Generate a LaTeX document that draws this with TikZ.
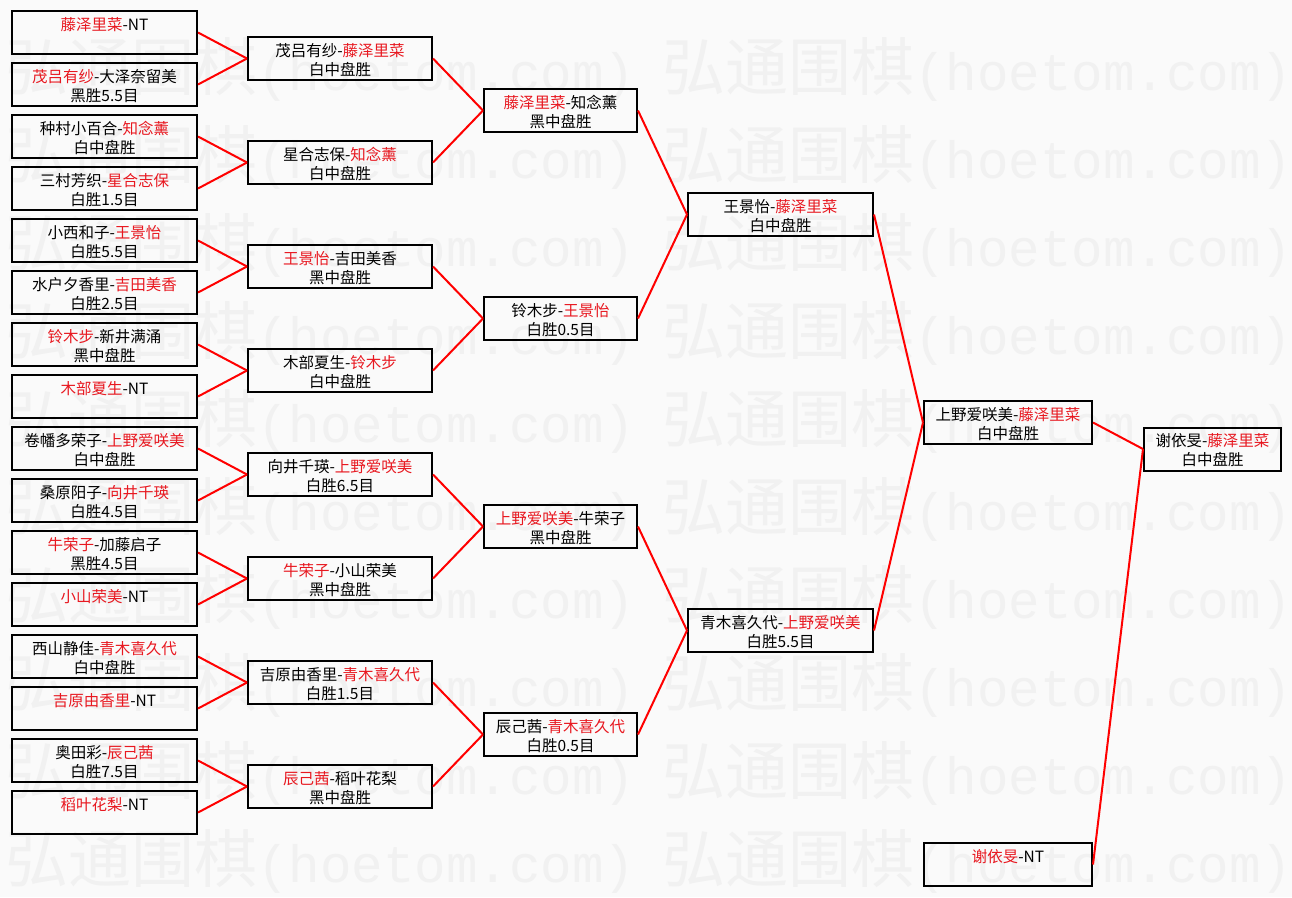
\documentclass[tikz,border=0pt]{standalone}
\usepackage{fontspec}
\newfontfamily\cjk{Noto Sans CJK SC}
\newfontfamily\wmmono{Liberation Mono}
\definecolor{nred}{RGB}{232,24,32}
\definecolor{bgc}{RGB}{250,250,250}
\definecolor{wmc}{RGB}{241,241,241}
\newcommand{\rd}[1]{\textcolor{nred}{#1}}
\tikzset{
  box/.style={draw=black, line width=2pt, rectangle, minimum height=43pt, inner sep=0pt},
  txt/.style={anchor=base, inner sep=0pt, font=\cjk\fontsize{15.5}{18}\selectfont, text=black},
  conn/.style={draw=red, line width=2pt},
  wm/.style={anchor=base west, inner sep=0pt, text=wmc}
}
\newcommand{\gamebox}[6]{%
  \node[box, minimum width=#4pt] (#1) at (#2,#3) {};
  \node[txt] (#1a) at ([yshift=-20.2pt]#1.north) {#5};
  \node[txt] (#1b) at ([yshift=-39.2pt]#1.north) {#6};
}
\begin{document}
\begin{tikzpicture}[x=1pt,y=-1pt]
\fill[bgc] (0,0) rectangle (1292,897);
\useasboundingbox (0,0) rectangle (1292,897);
% watermark
\foreach \k in {0,...,9}{
  \node[wm] (wl\k) at (5,{90+88*\k}) {{\cjk\fontsize{63}{63}\selectfont 弘通围棋}{\wmmono\fontsize{52.5}{60}\selectfont (hoetom.com)}};
  \node[wm] (wr\k) at (662,{90+88*\k}) {{\cjk\fontsize{63}{63}\selectfont 弘通围棋}{\wmmono\fontsize{52.5}{60}\selectfont (hoetom.com)}};
}
% column 1
\gamebox{a0}{104.5}{32.5}{185}{\rd{藤泽里菜}-NT}{\strut}
\gamebox{a1}{104.5}{84.5}{185}{\rd{茂吕有纱}-大泽奈留美}{黑胜5.5目}
\gamebox{a2}{104.5}{136.5}{185}{种村小百合-\rd{知念薰}}{白中盘胜}
\gamebox{a3}{104.5}{188.5}{185}{三村芳织-\rd{星合志保}}{白胜1.5目}
\gamebox{a4}{104.5}{240.5}{185}{小西和子-\rd{王景怡}}{白胜5.5目}
\gamebox{a5}{104.5}{292.5}{185}{水户夕香里-\rd{吉田美香}}{白胜2.5目}
\gamebox{a6}{104.5}{344.5}{185}{\rd{铃木步}-新井满涌}{黑中盘胜}
\gamebox{a7}{104.5}{396.5}{185}{\rd{木部夏生}-NT}{\strut}
\gamebox{a8}{104.5}{448.5}{185}{卷幡多荣子-\rd{上野爱咲美}}{白中盘胜}
\gamebox{a9}{104.5}{500.5}{185}{桑原阳子-\rd{向井千瑛}}{白胜4.5目}
\gamebox{a10}{104.5}{552.5}{185}{\rd{牛荣子}-加藤启子}{黑胜4.5目}
\gamebox{a11}{104.5}{604.5}{185}{\rd{小山荣美}-NT}{\strut}
\gamebox{a12}{104.5}{656.5}{185}{西山静佳-\rd{青木喜久代}}{白中盘胜}
\gamebox{a13}{104.5}{708.5}{185}{\rd{吉原由香里}-NT}{\strut}
\gamebox{a14}{104.5}{760.5}{185}{奥田彩-\rd{辰己茜}}{白胜7.5目}
\gamebox{a15}{104.5}{812.5}{185}{\rd{稻叶花梨}-NT}{\strut}
% column 2
\gamebox{b0}{340}{58.5}{184}{茂吕有纱-\rd{藤泽里菜}}{白中盘胜}
\gamebox{b1}{340}{162.5}{184}{星合志保-\rd{知念薰}}{白中盘胜}
\gamebox{b2}{340}{266.5}{184}{\rd{王景怡}-吉田美香}{黑中盘胜}
\gamebox{b3}{340}{370.5}{184}{木部夏生-\rd{铃木步}}{白中盘胜}
\gamebox{b4}{340}{474.5}{184}{向井千瑛-\rd{上野爱咲美}}{白胜6.5目}
\gamebox{b5}{340}{578.5}{184}{\rd{牛荣子}-小山荣美}{黑中盘胜}
\gamebox{b6}{340}{682.5}{184}{吉原由香里-\rd{青木喜久代}}{白胜1.5目}
\gamebox{b7}{340}{786.5}{184}{\rd{辰己茜}-稻叶花梨}{黑中盘胜}
% column 3
\gamebox{c0}{560.5}{110.5}{153}{\rd{藤泽里菜}-知念薰}{黑中盘胜}
\gamebox{c1}{560.5}{318.5}{153}{铃木步-\rd{王景怡}}{白胜0.5目}
\gamebox{c2}{560.5}{526.5}{153}{\rd{上野爱咲美}-牛荣子}{黑中盘胜}
\gamebox{c3}{560.5}{734.5}{153}{辰己茜-\rd{青木喜久代}}{白胜0.5目}
% column 4
\gamebox{d0}{780.5}{214.5}{185}{王景怡-\rd{藤泽里菜}}{白中盘胜}
\gamebox{d1}{780.5}{630.5}{185}{青木喜久代-\rd{上野爱咲美}}{白胜5.5目}
% column 5
\gamebox{e0}{1008}{422.5}{168}{上野爱咲美-\rd{藤泽里菜}}{白中盘胜}
\gamebox{e1}{1008}{864.5}{168}{\rd{谢依旻}-NT}{\strut}
% final
\gamebox{f0}{1212.5}{449}{137}{谢依旻-\rd{藤泽里菜}}{白中盘胜}
% connectors
\foreach \i/\p in {0/0,1/0,2/1,3/1,4/2,5/2,6/3,7/3,8/4,9/4,10/5,11/5,12/6,13/6,14/7,15/7}
  \draw[conn] (a\i.east) -- (b\p.west);
\foreach \i/\p in {0/0,1/0,2/1,3/1,4/2,5/2,6/3,7/3}
  \draw[conn] (b\i.east) -- (c\p.west);
\foreach \i/\p in {0/0,1/0,2/1,3/1}
  \draw[conn] (c\i.east) -- (d\p.west);
\draw[conn] (d0.east) -- (e0.west);
\draw[conn] (d1.east) -- (e0.west);
\draw[conn] (e0.east) -- (f0.west);
\draw[conn] (e1.east) -- (f0.west);
\end{tikzpicture}
\end{document}
